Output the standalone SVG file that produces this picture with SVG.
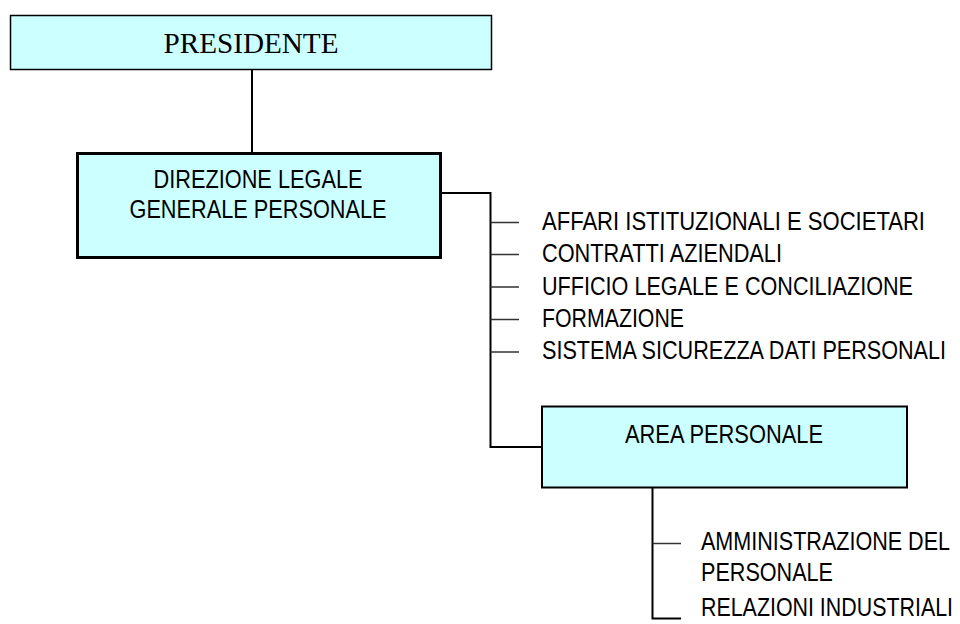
<svg xmlns="http://www.w3.org/2000/svg" width="960" height="624" viewBox="0 0 960 624">
<style>
.box{fill:#CCFFFF;stroke:#000}
.t{font-family:"Liberation Sans",Arial,sans-serif;font-size:25px;fill:#000}
.tc{text-anchor:middle}
.ser{font-family:"Liberation Serif","Times New Roman",serif;font-size:29px;fill:#000;text-anchor:middle}
.con{fill:none;stroke:#000;stroke-width:2}
.br{fill:none;stroke:#333;stroke-width:1.5}
</style>
<rect width="960" height="624" fill="#fff"/>
<g id="connectors">
<path class="con" d="M252 70V152"/>
<path class="con" d="M441 193H490.5V447H542"/>
<path class="br" d="M490.5 222.5H519M490.5 254.5H519M490.5 287H519M490.5 319.5H519M490.5 352H519"/>
<path class="con" d="M652.5 488V618.5H681"/>
<path class="br" d="M652.5 543.5H681"/>
</g>
<g id="presidente">
<rect class="box" x="10.5" y="15.5" width="481" height="54" stroke-width="1.5"/>
<text class="ser" x="251" y="53" textLength="175" lengthAdjust="spacingAndGlyphs">PRESIDENTE</text>
</g>
<g id="direzione">
<rect class="box" x="77.5" y="153.5" width="363" height="104" stroke-width="3"/>
<text class="t tc" x="258" y="188" textLength="209" lengthAdjust="spacingAndGlyphs">DIREZIONE LEGALE</text>
<text class="t tc" x="258" y="218" textLength="257" lengthAdjust="spacingAndGlyphs">GENERALE PERSONALE</text>
</g>
<g id="affari"><text class="t" x="542" y="230" textLength="383" lengthAdjust="spacingAndGlyphs">AFFARI ISTITUZIONALI  E SOCIETARI</text></g>
<g id="contratti"><text class="t" x="542" y="262" textLength="240" lengthAdjust="spacingAndGlyphs">CONTRATTI AZIENDALI</text></g>
<g id="ufficio"><text class="t" x="542" y="294.5" textLength="371" lengthAdjust="spacingAndGlyphs">UFFICIO LEGALE E CONCILIAZIONE</text></g>
<g id="formazione"><text class="t" x="542" y="327" textLength="142" lengthAdjust="spacingAndGlyphs">FORMAZIONE</text></g>
<g id="sistema"><text class="t" x="542" y="359" textLength="404" lengthAdjust="spacingAndGlyphs">SISTEMA SICUREZZA DATI PERSONALI</text></g>
<g id="area">
<rect class="box" x="542" y="406.5" width="365" height="81" stroke-width="2"/>
<text class="t tc" x="724" y="443" textLength="198" lengthAdjust="spacingAndGlyphs">AREA PERSONALE</text>
</g>
<g id="amministrazione">
<text class="t" x="701" y="550" textLength="249" lengthAdjust="spacingAndGlyphs">AMMINISTRAZIONE DEL</text>
<text class="t" x="701" y="581" textLength="132" lengthAdjust="spacingAndGlyphs">PERSONALE</text>
</g>
<g id="relazioni"><text class="t" x="701" y="616" textLength="252" lengthAdjust="spacingAndGlyphs">RELAZIONI INDUSTRIALI</text></g>
</svg>
